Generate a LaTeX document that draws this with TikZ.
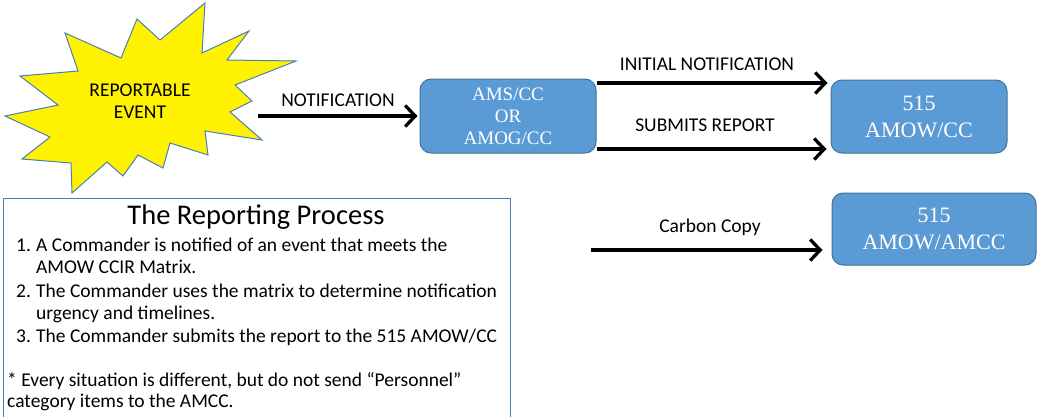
\documentclass[tikz,border=0pt]{standalone}
\usepackage{fontspec}
\setmainfont{Carlito}
\newfontfamily\tnr{Liberation Serif}
\usetikzlibrary{arrows.meta}
\definecolor{boxblue}{HTML}{5B9BD5}
\definecolor{edgeblue}{HTML}{41719C}
\definecolor{lineblue}{HTML}{4A7EBB}
\begin{document}
\begin{tikzpicture}[x=1pt,y=-1pt,
  box/.style={draw=edgeblue, fill=boxblue, rounded corners=11pt, line width=1pt, text=white, align=center, inner sep=0pt},
  arr/.style={line width=3.3pt, -{Straight Barb[length=10pt,width=21pt]}},
  lbl/.style={font=\fontsize{19.5}{22}\selectfont, inner sep=0pt, align=center},
  body/.style={font=\fontsize{19.5}{22}\selectfont, inner sep=0pt, anchor=base west}]
\useasboundingbox (0,0) rectangle (1037,416);
% starburst
\draw[fill=yellow, draw=lineblue, line width=1pt, line join=miter]
  (205,3) -- (202,53) -- (249,31) -- (227,60) -- (296,61) -- (235,85) -- (252,101)
  -- (230,112) -- (262,140) -- (205,131) -- (208,155) -- (170,143) -- (163,168)
  -- (138,155) -- (123,176) -- (107,162) -- (72,193) -- (71,163) -- (22,159)
  -- (50,137) -- (5,116) -- (58,105) -- (20,76) -- (78,71) -- (65,33) -- (121,58)
  -- (137,19) -- (160,40) -- cycle;
\node[lbl] (event) at (140,101) {REPORTABLE\\EVENT};
\coordinate (notstart) at (258,116);
\coordinate (ccstart) at (591,250);
% boxes
\node[box, minimum width=176pt, minimum height=74pt, font=\tnr\fontsize{19}{22}\selectfont] (ams) at (508,116) {AMS/CC\\OR\\AMOG/CC};
\node[box, minimum width=176pt, minimum height=73pt, font=\tnr\fontsize{22}{27}\selectfont] (cc) at (919,116.5) {515\\AMOW/CC};
\node[box, minimum width=204pt, minimum height=72pt, font=\tnr\fontsize{22}{27}\selectfont] (amcc) at (934,229) {515\\AMOW/AMCC};
% arrows
\draw[arr, shorten >=2pt] (notstart) -- (ams.west);
\draw[arr, shorten >=3pt] (ams.east |- 0,83) -- (cc.west |- 0,83);
\draw[arr, shorten >=4pt] (ams.east |- 0,149) -- (cc.west |- 0,149);
\draw[arr, shorten >=9pt] (ccstart) -- (amcc.west |- ccstart);
% labels
\node[lbl] (lnot) at (338,100) {NOTIFICATION};
\node[lbl] (linit) at (707,64) {INITIAL NOTIFICATION};
\node[lbl] (lsub) at (705,125) {SUBMITS REPORT};
\node[lbl] (lcc) at (710,227) {Carbon Copy};
% text box
\draw[draw=lineblue, line width=1pt] (3,422) -- (3,198) -- (510,198) -- (510,422);
\node[font=\fontsize{28.5}{32}\selectfont, inner sep=0pt, anchor=base] (title) at (256,224) {The Reporting Process};
\node[body] (n1) at (16,251) {1.};
\node[body] (t1) at (36,251) {A Commander is notified of an event that meets the};
\node[body] (t1b) at (36,273) {AMOW CCIR Matrix.};
\node[body] (n2) at (16,297) {2.};
\node[body] (t2) at (36,297) {The Commander uses the matrix to determine notification};
\node[body] (t2b) at (36,319) {urgency and timelines.};
\node[body] (n3) at (16,342) {3.};
\node[body] (t3) at (36,342) {The Commander submits the report to the 515 AMOW/CC};
\node[body] (s1) at (7,386) {* Every situation is different, but do not send “Personnel”};
\node[body] (s2) at (7,407) {category items to the AMCC.};
\end{tikzpicture}
\end{document}
